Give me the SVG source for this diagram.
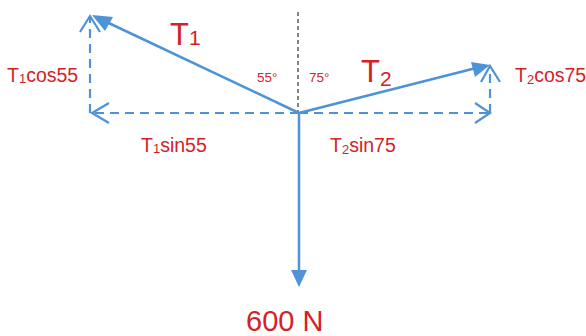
<svg xmlns="http://www.w3.org/2000/svg" width="586" height="336" viewBox="0 0 586 336">
<defs>
<style>
.vec{stroke:#4d93d6;stroke-width:2.5;fill:none}
.comp{stroke:#4d93d6;stroke-width:2.2;fill:none;stroke-dasharray:9 6}
.chev{stroke:#4d93d6;stroke-width:2.2;fill:none}
.t{font-family:"Liberation Sans",Arial,sans-serif;fill:#d42126}
.lbl{font-size:19.5px}
.ref{stroke:#333;stroke-width:1.2;stroke-dasharray:4 3;fill:none}
</style>
</defs>
<rect width="586" height="336" fill="#fff"/>
<g id="connectors">
<line class="ref" x1="298" y1="12" x2="298" y2="113"/>
<path class="comp" d="M299,113 H92"/>
<path class="chev" d="M109,103 L92,113 L109,123"/>
<path class="comp" d="M90,113 V18"/>
<path class="chev" d="M80,32 L90,16 L100,32"/>
<path class="comp" d="M299,113 H489"/>
<path class="chev" d="M475,103 L490,113 L475,123"/>
<path class="comp" d="M490,113 V68"/>
<path class="chev" d="M481,82 L490,66 L500,82"/>
<line class="vec" x1="299" y1="113" x2="96" y2="17"/>
<path d="M92,15 L113,17 L105,31 Z" fill="#4d93d6"/>
<line class="vec" x1="299" y1="113" x2="484" y2="66"/>
<path d="M490,65 L471,62 L475,77 Z" fill="#4d93d6"/>
<line class="vec" x1="299" y1="113" x2="299" y2="272"/>
<path d="M291,270 L307,270 L299,287 Z" fill="#4d93d6"/>
</g>
<g id="T1"><text class="t" x="170" y="45" font-size="31">T<tspan font-size="21">1</tspan></text></g>
<g id="T2"><text class="t" x="361" y="82" font-size="31">T<tspan font-size="21" dy="4">2</tspan></text></g>
<g id="a55"><text class="t" x="257" y="82" font-size="13.5">55°</text></g>
<g id="a75"><text class="t" x="309" y="82" font-size="13.5">75°</text></g>
<g id="T1cos"><text class="t lbl" x="7" y="82">T<tspan font-size="13" dy="1">1</tspan><tspan dy="-1">cos55</tspan></text></g>
<g id="T1sin"><text class="t lbl" x="141" y="152">T<tspan font-size="13" dy="1">1</tspan><tspan dy="-1">sin55</tspan></text></g>
<g id="T2sin"><text class="t lbl" x="330" y="152">T<tspan font-size="13" dy="2">2</tspan><tspan dy="-2">sin75</tspan></text></g>
<g id="T2cos"><text class="t lbl" x="515" y="82">T<tspan font-size="13" dy="2">2</tspan><tspan dy="-2">cos75</tspan></text></g>
<g id="W"><text class="t" x="246" y="331" font-size="29">600 N</text></g>
</svg>
